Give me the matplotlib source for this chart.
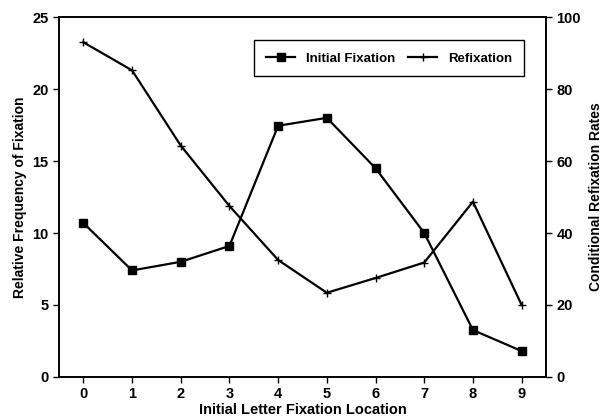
"""Initial fixation vs refixation by letter location."""

import matplotlib
matplotlib.use("Agg")
import matplotlib.pyplot as plt

LOCATIONS = [0, 1, 2, 3, 4, 5, 6, 7, 8, 9]
INITIAL_FIXATION = [10.7, 7.4, 8.0, 9.1, 17.45, 18.0, 14.5, 10.0, 3.26, 1.8]
REFIXATION = [93.0, 85.2, 64.3, 47.5, 32.5, 23.4, 27.5, 31.8, 48.7, 20.0]
LEFT_TICKS = [0, 5, 10, 15, 20, 25]
RIGHT_TICKS = [0, 20, 40, 60, 80, 100]


def main():
    """Go Main Go."""
    plt.rcParams['font.family'] = ['Liberation Sans', 'DejaVu Sans']
    plt.rcParams['font.weight'] = 'bold'
    plt.rcParams['axes.labelweight'] = 'bold'
    plt.rcParams['font.size'] = 9
    fig = plt.figure(figsize=(6.13, 4.16), dpi=100)
    ax = fig.add_axes([0.0962, 0.0938, 0.7945, 0.8652])
    ax2 = ax.twinx()

    l1, = ax.plot(LOCATIONS, INITIAL_FIXATION, color='black', lw=1.6,
                  marker='s', ms=6, label='Initial Fixation')
    l2, = ax2.plot(LOCATIONS, REFIXATION, color='black', lw=1.6,
                   marker='+', ms=6, mew=1.0, label='Refixation')

    ax.set_xlim(-0.5, 9.5)
    ax.set_ylim(0, 25)
    ax2.set_ylim(0, 100)
    ax.set_xticks(LOCATIONS)
    ax.set_yticks(LEFT_TICKS)
    ax2.set_yticks(RIGHT_TICKS)
    for a in (ax, ax2):
        a.tick_params(direction='out', length=4, width=1, labelsize=10.5)
        for sp in a.spines.values():
            sp.set_linewidth(1.2)
    ax.set_xlabel("Initial Letter Fixation Location", fontsize=10.5,
                  labelpad=1)
    ax.set_ylabel("Relative Frequency of Fixation", fontsize=10)
    ax2.set_ylabel("Conditional Refixation Rates", fontsize=10,
                   labelpad=6)

    leg = ax.legend([l1, l2], ['Initial Fixation', 'Refixation'], ncol=2,
                    loc='center', bbox_to_anchor=(0.678, 0.885),
                    fancybox=False, edgecolor='black', fontsize=9.5,
                    handlelength=2.2, columnspacing=1.0,
                    borderpad=0.9, framealpha=1)
    leg.get_frame().set_linewidth(1.0)
    fig.savefig('out.png', dpi=100)


if __name__ == '__main__':
    main()
